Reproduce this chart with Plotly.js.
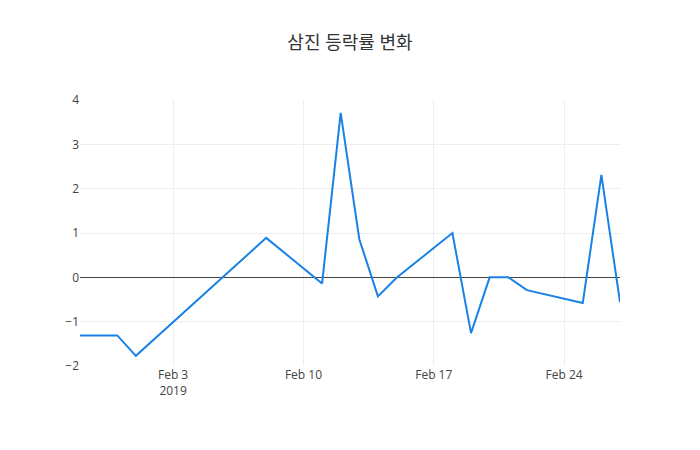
<!DOCTYPE html>
<html>
<head>
<meta charset="utf-8">
<script src="https://cdn.plot.ly/plotly-3.0.1.min.js"></script>
<style>body{margin:0;} #plot{width:700px;height:450px;}</style>
</head>
<body>
<div id="plot"></div>
<script>
var dates = ['2019-01-29', '2019-01-31', '2019-02-01', '2019-02-08', '2019-02-11',
             '2019-02-12', '2019-02-13', '2019-02-14', '2019-02-15', '2019-02-18',
             '2019-02-19', '2019-02-20', '2019-02-21', '2019-02-22', '2019-02-25',
             '2019-02-26', '2019-02-27'];
var rates = [-1.31, -1.31, -1.77, 0.89, -0.14,
             3.71, 0.86, -0.43, -0.01, 1.0,
             -1.26, 0.0, 0.0, -0.29, -0.58,
             2.31, -0.56];

function plot(element){
    let trace = {
        x: dates,
        y: rates,
        mode: 'lines',
        type: 'scatter',
        line: { color: '#1a82e6', width: 2 }
    };
    let layout = {
        title: { text: '삼진 등락률 변화', font: { size: 18, color: '#333' }, y: 0.905, yanchor: 'middle' },
        width: 700,
        height: 450,
        margin: { l: 80, r: 80, t: 100, b: 84 },
        font: { family: '"Open Sans", "Noto Sans CJK KR", sans-serif', color: '#444' },
        xaxis: { type: 'date', showline: false, gridcolor: '#eee' },
        yaxis: { range: [-2, 4], dtick: 1, gridcolor: '#eee', zerolinecolor: '#444', zerolinewidth: 1 },
        paper_bgcolor: '#fff',
        plot_bgcolor: '#fff'
    };
    Plotly.newPlot(element, [trace], layout, { displayModeBar: false });
}

plot('plot');
</script>
</body>
</html>
